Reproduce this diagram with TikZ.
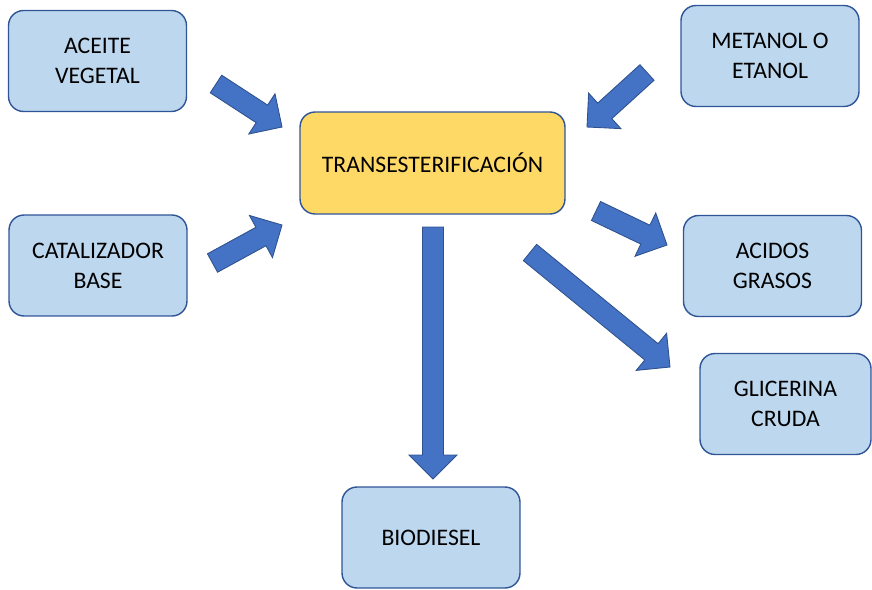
\documentclass[tikz,border=0pt]{standalone}
\usepackage{fontspec}
\setmainfont{Carlito}
\usetikzlibrary{calc}
\definecolor{boxblue}{HTML}{BDD7EE}
\definecolor{boxline}{HTML}{2F5597}
\definecolor{procyellow}{HTML}{FFD966}
\definecolor{arrowblue}{HTML}{4472C4}
\definecolor{arrowline}{HTML}{2F528F}
\tikzset{
    box/.style={draw=boxline, fill=boxblue, rounded corners=0.3cm, line width=0.8pt,
        minimum width=3.56cm, minimum height=2.02cm, align=center,
        font=\fontsize{13.5}{17}\selectfont},
    process/.style={box, fill=procyellow, minimum width=5.3cm, minimum height=2.04cm},
    blockarrow/.style={draw=arrowline, fill=arrowblue, line width=0.5pt}
}
\newcommand{\bigarrow}[2]{%
    \coordinate (#1-h) at ($(#2)!0.48cm!(#1)$);
    \filldraw[blockarrow] ($(#1)!0.21cm!90:(#2)$) -- ($(#1-h)!0.21cm!-90:(#1)$)
        -- ($(#1-h)!0.48cm!-90:(#1)$) -- (#2) -- ($(#1-h)!0.48cm!90:(#1)$)
        -- ($(#1-h)!0.21cm!90:(#1)$) -- ($(#1)!0.21cm!-90:(#2)$) -- cycle;
}
\begin{document}
\begin{tikzpicture}[x=0.02cm,y=-0.02cm]
        \useasboundingbox (0,0) rectangle (872,589);

        \node[box] (aceite) at (97.5,61) {ACEITE\\VEGETAL};
        \node[box] (catalizador) at (98,265.5) {CATALIZADOR\\BASE};
        \node[box] (metanol) at (770,56) {METANOL O\\ETANOL};
        \node[process] (trans) at (432.5,163) {TRANSESTERIFICACIÓN};
        \node[box] (acidos) at (772.5,266) {ACIDOS\\GRASOS};
        \node[box, minimum width=3.42cm] (glicerina) at (785.5,404) {GLICERINA\\CRUDA};
        \node[box] (biodiesel) at (431,537.5) {BIODIESEL};

        \coordinate (aceite-s) at (216,84);
        \coordinate (aceite-e) at (282,127);
        \coordinate (catalizador-s) at (212.5,263);
        \coordinate (catalizador-e) at (282,225);
        \coordinate (metanol-s) at (647,72.5);
        \coordinate (metanol-e) at (587,127);
        \coordinate (biodiesel-s) at (433,227);
        \coordinate (biodiesel-e) at (433,479);
        \coordinate (acidos-s) at (596,211);
        \coordinate (acidos-e) at (667,245);
        \coordinate (glicerina-s) at (530,252.5);
        \coordinate (glicerina-e) at (670,367);

        \bigarrow{aceite-s}{aceite-e}
        \bigarrow{catalizador-s}{catalizador-e}
        \bigarrow{metanol-s}{metanol-e}
        \bigarrow{biodiesel-s}{biodiesel-e}
        \bigarrow{acidos-s}{acidos-e}
        \bigarrow{glicerina-s}{glicerina-e}
    \end{tikzpicture}
\end{document}
